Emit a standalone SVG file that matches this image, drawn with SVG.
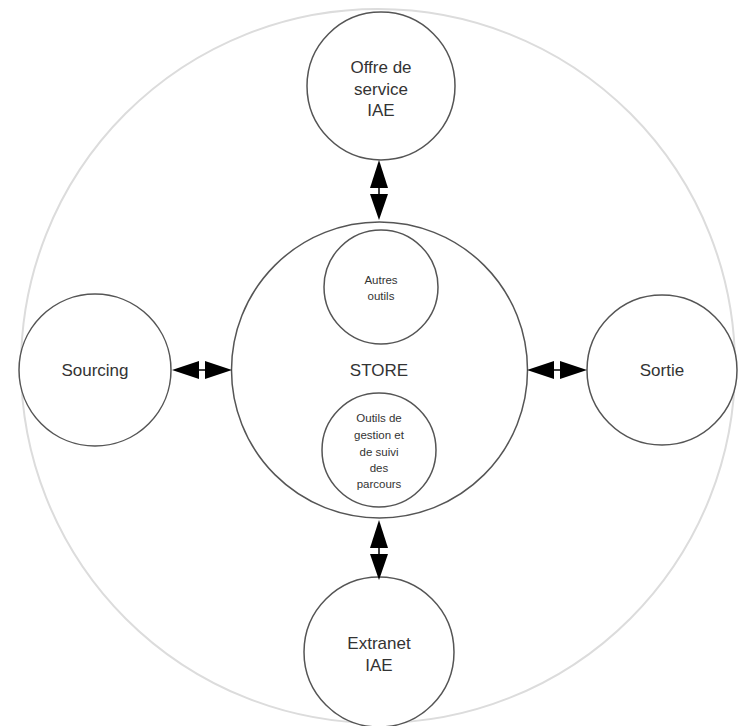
<svg xmlns="http://www.w3.org/2000/svg" width="738" height="726" viewBox="0 0 738 726">
<style>
.node{fill:#fff;stroke:#555;stroke-width:1.5}
.outer{fill:none;stroke:#dcdcdc;stroke-width:2}
.lbl{font-family:"Liberation Sans",Arial,sans-serif;font-size:17px;fill:#333;text-anchor:middle}
.sm{font-family:"Liberation Sans",Arial,sans-serif;font-size:11.5px;fill:#333;text-anchor:middle}
.head{fill:#000}
.shaft{stroke:#000;stroke-width:1.5}
</style>
<rect width="738" height="726" fill="#fff"/>
<circle class="outer" cx="378" cy="366" r="357"/>
<g id="offre"><circle class="node" cx="381" cy="86" r="74"/>
<text class="lbl"><tspan x="381" y="73">Offre de</tspan><tspan x="381" y="95">service</tspan><tspan x="381" y="116">IAE</tspan></text></g>
<g id="store"><circle class="node" cx="379.5" cy="370" r="148"/>
<text class="lbl" x="379" y="376">STORE</text></g>
<g id="autres"><circle class="node" cx="381" cy="287" r="57"/>
<text class="sm"><tspan x="381" y="284">Autres</tspan><tspan x="381" y="300">outils</tspan></text></g>
<g id="outils"><circle class="node" cx="379" cy="450" r="57"/>
<text class="sm"><tspan x="379" y="422">Outils de</tspan><tspan x="379" y="439">gestion et</tspan><tspan x="379" y="456">de suivi</tspan><tspan x="379" y="472">des</tspan><tspan x="379" y="488">parcours</tspan></text></g>
<g id="sourcing"><circle class="node" cx="95" cy="370" r="76"/>
<text class="lbl" x="95" y="376">Sourcing</text></g>
<g id="sortie"><circle class="node" cx="662" cy="370" r="75"/>
<text class="lbl" x="662" y="376">Sortie</text></g>
<g id="extranet"><circle class="node" cx="379" cy="652" r="75"/>
<text class="lbl"><tspan x="379" y="649">Extranet</tspan><tspan x="379" y="671">IAE</tspan></text></g>
<g id="connectors">
<line class="shaft" x1="379" y1="185" x2="379" y2="196"/>
<polygon class="head" points="379,160 370,188 388,188"/>
<polygon class="head" points="379,220 370,194 388,194"/>
<line class="shaft" x1="379" y1="545" x2="379" y2="556"/>
<polygon class="head" points="379,520 370,548 388,548"/>
<polygon class="head" points="379,580 370,554 388,554"/>
<line class="shaft" x1="196" y1="370" x2="208" y2="370"/>
<polygon class="head" points="172,370 199,361 199,379"/>
<polygon class="head" points="232,370 205,361 205,379"/>
<line class="shaft" x1="551" y1="370" x2="563" y2="370"/>
<polygon class="head" points="527,370 554,361 554,379"/>
<polygon class="head" points="587,370 560,361 560,379"/>
</g>
</svg>
